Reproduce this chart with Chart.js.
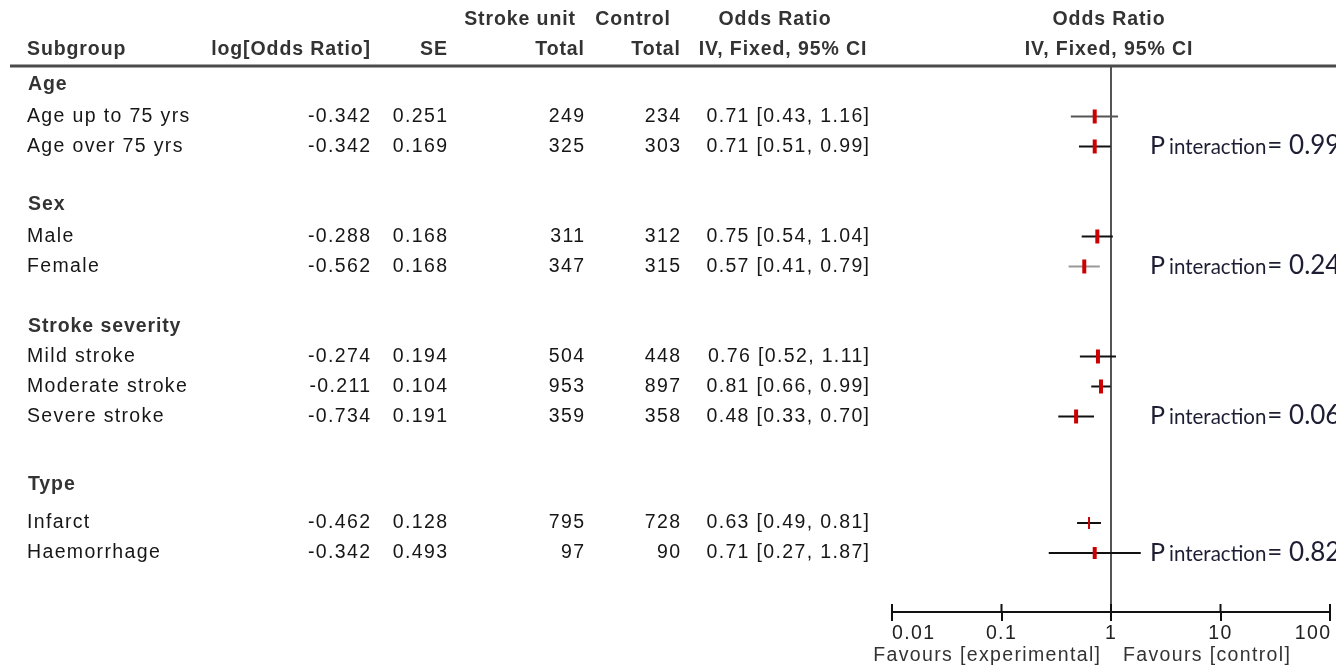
<!DOCTYPE html>
<html>
<head>
<meta charset="utf-8">
<title>Stroke unit subgroups forest plot</title>
<script src="https://cdn.jsdelivr.net/npm/chart.js@4"></script>
<style>
  html, body { margin: 0; padding: 0; background: #fff; }
  canvas { display: block; }
</style>
</head>
<body>
<canvas id="forest" width="1336" height="669"></canvas>
<script>
// ---------- DATA ----------
const groups = ['Age', 'Sex', 'Stroke severity', 'Type'];
const subgroups = ['Age up to 75 yrs', 'Age over 75 yrs', 'Male', 'Female', 'Mild stroke',
  'Moderate stroke', 'Severe stroke', 'Infarct', 'Haemorrhage'];
const logOddsRatio = ['-0.342', '-0.342', '-0.288', '-0.562', '-0.274', '-0.211', '-0.734', '-0.462', '-0.342'];
const stdErr = ['0.251', '0.169', '0.168', '0.168', '0.194', '0.104', '0.191', '0.128', '0.493'];
const strokeUnitTotal = [249, 325, 311, 347, 504, 953, 359, 795, 97];
const controlTotal = [234, 303, 312, 315, 448, 897, 358, 728, 90];
const oddsRatio = [0.71, 0.71, 0.75, 0.57, 0.76, 0.81, 0.48, 0.63, 0.71];
const ciLow = [0.43, 0.51, 0.54, 0.41, 0.52, 0.66, 0.33, 0.49, 0.27];
const ciHigh = [1.16, 0.99, 1.04, 0.79, 1.11, 0.99, 0.70, 0.81, 1.87];
const pInteraction = ['0.99', '0.24', '0.06', '0.82'];
const axisTicks = [0.01, 0.1, 1, 10, 100];
const axisTickLabels = ['0.01', '0.1', '1', '10', '100'];

// ---------- LAYOUT ----------
// row slots on the y scale (one slot = 30px)
const groupRow = [0, 4, 8.05, 13.33];
const subRow = [1.05, 2.05, 5.05, 6.05, 9.05, 10.05, 11.05, 14.6, 15.6];
const pRowOf = [1, 3, 6, 8]; // subgroup that carries the p value

const FONT = '19.5px "Liberation Sans", Arial, sans-serif';
const BOLD = 'bold 19.5px "Liberation Sans", Arial, sans-serif';
const TEXT = '#161616';
const HEAD = '#333333';

function put(ctx, s, px, py, align, font, color, spacing) {
  ctx.font = font;
  ctx.letterSpacing = spacing + 'px';
  ctx.textAlign = align;
  ctx.fillStyle = color;
  ctx.fillText(s, align === 'right' ? px + spacing : px, py);
}
const reg = (ctx, s, px, py, align, color) => put(ctx, s, px, py, align, FONT, color || TEXT, 1.35);
const bold = (ctx, s, px, py, align) => put(ctx, s, px, py, align, BOLD, HEAD, 0.9);

const tablePlugin = {
  id: 'forestTable',
  afterDraw(chart) {
    const { ctx, chartArea } = chart;
    const x = chart.scales.x;
    const y = chart.scales.y;
    ctx.save();
    ctx.textBaseline = 'middle';

    // header
    bold(ctx, 'Stroke unit', 575, 20, 'right');
    bold(ctx, 'Control', 670, 20, 'right');
    bold(ctx, 'Odds Ratio', 775, 20, 'center');
    bold(ctx, 'Odds Ratio', 1109, 20, 'center');
    bold(ctx, 'Subgroup', 27, 50, 'left');
    bold(ctx, 'log[Odds Ratio]', 370, 50, 'right');
    bold(ctx, 'SE', 447, 50, 'right');
    bold(ctx, 'Total', 584, 50, 'right');
    bold(ctx, 'Total', 680, 50, 'right');
    bold(ctx, 'IV, Fixed, 95% CI', 783, 50, 'center');
    bold(ctx, 'IV, Fixed, 95% CI', 1109, 50, 'center');

    ctx.strokeStyle = '#4a4a4a';
    ctx.lineWidth = 3;
    ctx.beginPath();
    ctx.moveTo(10, chartArea.top);
    ctx.lineTo(1336, chartArea.top);
    ctx.stroke();

    // group headings
    groups.forEach((g, i) => bold(ctx, g, 28, y.getPixelForValue(groupRow[i]), 'left'));

    // subgroup rows
    subgroups.forEach((s, i) => {
      const py = y.getPixelForValue(subRow[i]);
      reg(ctx, s, 27, py, 'left');
      reg(ctx, logOddsRatio[i], 370, py, 'right');
      reg(ctx, stdErr[i], 447, py, 'right');
      reg(ctx, String(strokeUnitTotal[i]), 584, py, 'right');
      reg(ctx, String(controlTotal[i]), 680, py, 'right');
      reg(ctx, oddsRatio[i].toFixed(2) + ' [' + ciLow[i].toFixed(2) + ', ' + ciHigh[i].toFixed(2) + ']',
        869, py, 'right');
    });

    // p for interaction
    ctx.textBaseline = 'alphabetic';
    pInteraction.forEach((p, i) => {
      const base = y.getPixelForValue(subRow[pRowOf[i]]) + 8;
      let px = 1150;
      ctx.letterSpacing = '0px';
      ctx.textAlign = 'left';
      ctx.fillStyle = '#1d1d33';
      ctx.font = '25px Lato, sans-serif';
      ctx.fillText('P', px, base);
      px += ctx.measureText('P').width + 4;
      ctx.font = '20.5px Lato, sans-serif';
      ctx.fillText('interaction', px, base);
      px += ctx.measureText('interaction').width + 1;
      ctx.font = '26px Lato, sans-serif';
      ctx.fillText('= ' + p, px, base);
    });

    // axis: upper half of the tick marks and the labels
    ctx.strokeStyle = '#111';
    ctx.lineWidth = 2;
    ctx.textBaseline = 'middle';
    axisTicks.forEach((v, i) => {
      const px = x.getPixelForValue(v);
      ctx.beginPath();
      ctx.moveTo(px, chartArea.bottom - 8);
      ctx.lineTo(px, chartArea.bottom);
      ctx.stroke();
      const align = i === 0 ? 'left' : (i === axisTicks.length - 1 ? 'right' : 'center');
      reg(ctx, axisTickLabels[i], px, 634, align, '#222');
    });
    reg(ctx, 'Favours [experimental]', 1100, 656, 'right', '#333');
    reg(ctx, 'Favours [control]', 1123, 656, 'left', '#333');

    ctx.restore();
  }
};

// ---------- CHART ----------
const ciColors = ['#555', '#111', '#111', '#999', '#111', '#111', '#111', '#111', '#111'];

const ciSets = subgroups.map((s, i) => ({
  type: 'line',
  label: s,
  data: [{ x: ciLow[i], y: subRow[i] }, { x: ciHigh[i], y: subRow[i] }],
  borderColor: ciColors[i],
  borderWidth: 2,
  pointRadius: 0,
  order: 1,
}));

const pointSet = {
  type: 'scatter',
  label: 'Odds ratio',
  data: oddsRatio.map((v, i) => ({ x: v, y: subRow[i] })),
  pointStyle: 'line',
  rotation: 90,
  radius: [7, 7, 7, 7, 7, 7, 7, 6, 6],
  borderWidth: [4, 4, 4, 4, 4, 4, 4, 2, 4],
  borderColor: '#cc0000',
  backgroundColor: '#cc0000',
  order: 0,
};

new Chart(document.getElementById('forest'), {
  type: 'scatter',
  data: { datasets: [pointSet, ...ciSets] },
  options: {
    responsive: false,
    animation: false,
    events: [],
    layout: { autoPadding: false, padding: { left: 892, right: 6, top: 66, bottom: 0 } },
    plugins: { legend: { display: false }, tooltip: { enabled: false } },
    scales: {
      x: {
        type: 'logarithmic',
        min: 0.01,
        max: 100,
        afterBuildTicks: (scale) => { scale.ticks = axisTicks.map(v => ({ value: v })); },
        afterFit: (scale) => { scale.height = 57; },
        ticks: { display: false },
        border: { display: true, color: '#111', width: 2 },
        grid: {
          drawOnChartArea: true,
          drawTicks: true,
          tickLength: 9,
          tickColor: '#111',
          tickWidth: 2,
          lineWidth: 2,
          color: (c) => (c.tick && c.tick.value === 1 ? '#555' : 'rgba(0,0,0,0)'),
        },
      },
      y: {
        type: 'linear',
        display: false,
        reverse: true,
        min: -0.633,
        max: 17.567,
      },
    },
  },
  plugins: [tablePlugin],
});
</script>
</body>
</html>
